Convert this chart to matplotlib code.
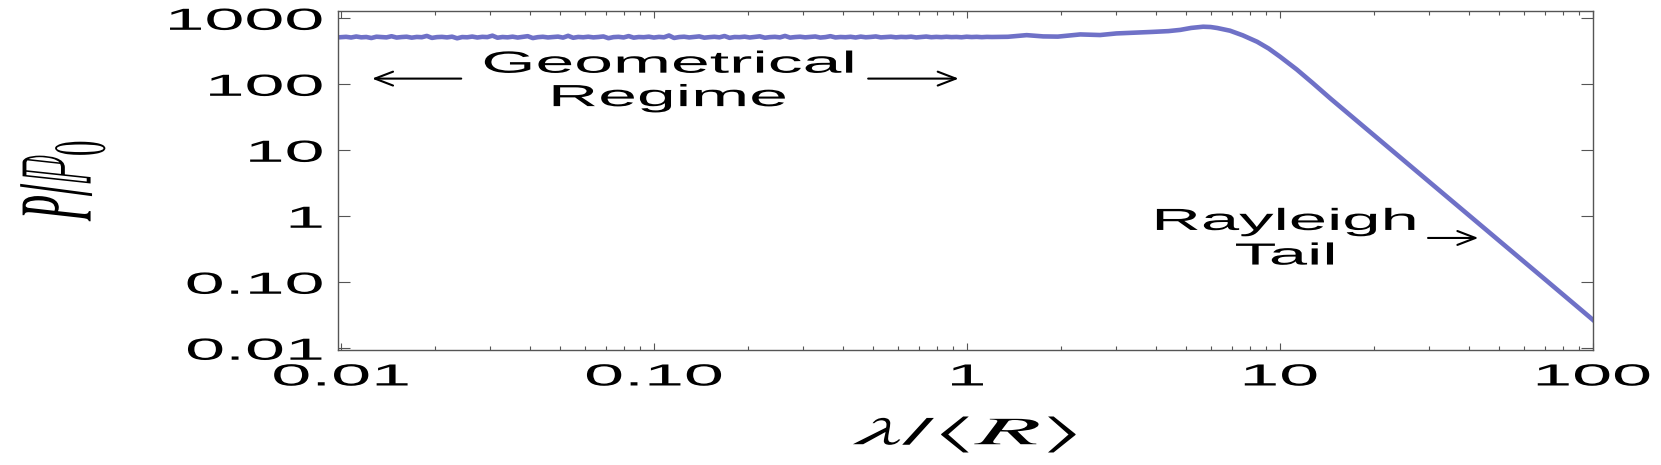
import matplotlib
matplotlib.use('Agg')
import matplotlib.pyplot as plt
import numpy as np
from matplotlib.patheffects import AbstractPathEffect
from matplotlib.transforms import Affine2D
from matplotlib.ticker import LogLocator, NullFormatter

plt.rcParams['font.family'] = ['Liberation Sans', 'DejaVu Sans']
plt.rcParams['mathtext.fontset'] = 'stix'

# geometrical plateau, jittery
plateau_y = [
    518, 524, 512, 530, 515, 521, 503, 526, 519, 514,
    535, 511, 520, 526, 509, 522, 517, 541, 505, 519,
    523, 514, 527, 498, 520, 516, 529, 512, 524, 519,
    546, 508, 521, 515, 527, 511, 523, 536, 502, 518,
    525, 513, 520, 528, 510, 543, 507, 522, 516, 526,
    514, 521, 531, 500, 519, 524, 513, 538, 509, 521,
    517, 527, 511, 523, 516, 549, 504, 520, 526, 513,
    522, 532, 509, 518, 525, 515, 539, 506, 521, 518,
    527, 512, 523, 533, 508, 519, 524, 514, 541, 510,
    520, 526, 515, 522, 530, 511, 519, 536, 513, 521,
    517, 525, 512, 528, 516, 522, 531, 514, 520, 526,
    515, 523, 519, 527, 513, 521, 529, 517, 523, 518,
    525, 519, 522, 516, 526, 520, 524, 518, 523, 521,
]
plateau_x = np.geomspace(0.01, 1.2, len(plateau_y))

# resonance bump and Rayleigh tail
tail_x = [1.35, 1.55, 1.75, 1.95, 2.3, 2.66, 3.0, 3.4, 3.9, 4.4, 4.8, 5.2,
          5.68, 6.0, 6.3, 6.92, 7.6, 8.45, 9.2, 10, 11.3, 12.7, 14.5, 16.4,
          18.5, 20.9, 26.6, 34.2, 43.6, 55.5, 71.3, 100]
tail_y = [525, 556, 532, 528, 570, 558, 590, 605, 622, 640, 668, 715,
          746, 738, 713, 649, 552, 441, 348, 262, 168, 105, 60.6, 37.0,
          22.9, 14.0, 5.35, 1.96, 0.742, 0.283, 0.104, 0.0268]

xtick_vals = [0.01, 0.1, 1, 10, 100]
xtick_labels = ['0.01', '0.10', '1', '10', '100']
ytick_vals = [0.01, 0.1, 1, 10, 100, 1000]
ytick_labels = ['0.01', '0.10', '1', '10', '100', '1000']

STRETCH = 2.35


class Stretch(AbstractPathEffect):
    """Widen glyphs around their own ink box (the source text is stretched)."""

    def __init__(self, sx=1.0, sy=1.0, ha=0.5):
        super().__init__()
        self.sx, self.sy, self.ha = sx, sy, ha

    def draw_path(self, renderer, gc, tpath, affine, rgbFace=None):
        ext = tpath.get_extents()
        x0 = ext.x0 + self.ha * ext.width
        y0 = ext.y0 + 0.5 * ext.height
        pre = Affine2D().translate(-x0, -y0).scale(self.sx, self.sy).translate(x0, y0)
        renderer.draw_path(gc, tpath, pre + affine, rgbFace)


fig = plt.figure(figsize=(16.61, 4.65), dpi=100)
ax = fig.add_axes([0.2037, 0.2473, 0.7554, 0.729])

x = np.concatenate([plateau_x, tail_x])
y = np.concatenate([plateau_y, tail_y])
ax.plot(x, y, color='#6f71c7', lw=3.3, solid_joinstyle='round')

ax.set_xscale('log')
ax.set_yscale('log')
ax.set_xlim(0.0098, 100)
ax.set_ylim(0.0094, 1290)

ax.set_xticks(xtick_vals, labels=xtick_labels)
ax.set_yticks(ytick_vals, labels=ytick_labels)
for axis in (ax.xaxis, ax.yaxis):
    axis.set_minor_locator(LogLocator(base=10, subs=np.arange(2, 10)))
    axis.set_minor_formatter(NullFormatter())

ax.tick_params(which='both', direction='in', top=True, right=True,
               color='#555555', width=0.8, labelsize=22, labelcolor='black')
ax.tick_params(axis='x', which='major', length=5, pad=9)
ax.tick_params(axis='x', which='minor', length=3)
ax.tick_params(axis='y', which='major', length=8.6, pad=11)
ax.tick_params(axis='y', which='minor', length=6.5)
for s in ax.spines.values():
    s.set_color('#555555')
    s.set_linewidth(1.0)

for lbl in ax.get_xticklabels():
    lbl.set_path_effects([Stretch(STRETCH, 1, 0.5)])
for lbl in ax.get_yticklabels():
    lbl.set_path_effects([Stretch(STRETCH, 1, 1.0)])

ax.set_xlabel(r'$\lambda/\langle R\rangle$', fontsize=28, va='center',
              path_effects=[Stretch(2.75, 1, 0.5)])
ax.xaxis.set_label_coords(0.5, -0.2507)
ax.set_ylabel(r'$P/\mathbb{P}_0$', fontsize=30, va='center', ha='center',
              path_effects=[Stretch(1, 2.5, 0.5)])
ax.yaxis.set_label_coords(-0.2194, 0.5)

ax.text(0.263, 0.886, 'Geometrical\nRegime', transform=ax.transAxes,
        ha='center', va='top', fontsize=22, linespacing=1.15,
        path_effects=[Stretch(2.28, 1, 0.5)])
ax.text(0.7545, 0.422, 'Rayleigh\nTail', transform=ax.transAxes,
        ha='center', va='top', fontsize=22, linespacing=1.2,
        path_effects=[Stretch(2.25, 1, 0.5)])

arrow = dict(arrowstyle='->,head_length=1.3,head_width=0.5', lw=1.5,
             color='black', shrinkA=0, shrinkB=0, mutation_scale=10)
ax.annotate('', xy=(0.01256, 122), xytext=(0.0242, 122), arrowprops=arrow)
ax.annotate('', xy=(0.94, 122), xytext=(0.483, 122), arrowprops=arrow)
ax.annotate('', xy=(43, 0.469), xytext=(29.7, 0.469), arrowprops=arrow)

fig.savefig('out.png', dpi=100)
